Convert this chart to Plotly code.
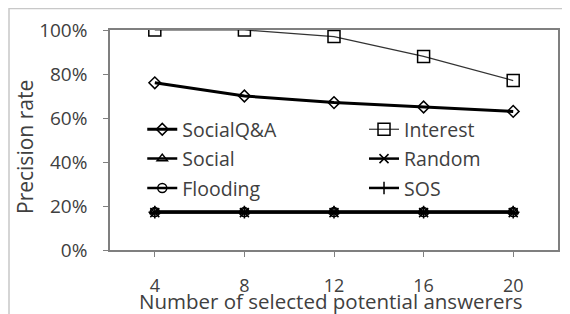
import plotly.graph_objects as go

x_vals = [4, 8, 12, 16, 20]
socialqa = [76, 70, 67, 65, 63]
interest = [100, 100, 97, 88, 77]
social = [17.5, 17.5, 17.5, 17.5, 17.5]
random_ = [17, 17, 17, 17, 17]
flooding = [17.3, 17.3, 17.3, 17.3, 17.3]
sos = [17.2, 17.2, 17.2, 17.2, 17.2]
y_tickvals = [0, 20, 40, 60, 80, 100]
y_ticktext = ["0%", "20%", "40%", "60%", "80%", "100%"]

FONT = "Open Sans"
TXT = "#404040"
fig = go.Figure()

def add(name, y, symbol, width, legend, color="black", msize=9):
    fig.add_trace(go.Scatter(
        x=x_vals, y=y, name=name, mode="lines+markers",
        line=dict(color=color, width=width),
        marker=dict(symbol=symbol, size=msize, color="black",
                    line=dict(color="black", width=1.5)),
        legend=legend, legendgroup=name))

add("SocialQ&A", socialqa, "diamond-open", 3, "legend")
add("Social", social, "triangle-up-open", 2.5, "legend")
add("Flooding", flooding, "circle-open", 2.5, "legend")
add("Interest", interest, "square-open", 1.2, "legend2", color="#333333", msize=12)
add("Random", random_, "x-thin-open", 2.5, "legend2")
add("SOS", sos, "cross-thin-open", 2.5, "legend2")

legend_common = dict(font=dict(family=FONT, size=19.5, color=TXT),
                     bgcolor="rgba(0,0,0,0)", tracegroupgap=1,
                     itemwidth=30, yanchor="top", xanchor="left")

# page body has an 8px margin: figure is drawn at (8, 8)
W, H = 562, 306
ML, MT, PW, PH = 102, 22, 448, 220

def px_x(px):  # on-screen pixel -> paper x
    return (px - 8 - ML) / PW

def px_y(py):  # on-screen pixel -> paper y
    return (MT + PH - (py - 8)) / PH

fig.update_layout(
    width=W, height=H,
    margin=dict(l=ML, r=W - ML - PW, t=MT, b=H - MT - PH),
    plot_bgcolor="white", paper_bgcolor="white",
    font=dict(family=FONT, color=TXT),
    legend=dict(x=0.072, y=0.636, **legend_common),
    legend2=dict(x=0.567, y=0.636, **legend_common),
    xaxis=dict(range=[2, 22], tickvals=x_vals, ticktext=[str(v) for v in x_vals],
               automargin=False,
               showgrid=False, zeroline=False, showline=True, linecolor="#7f7f7f",
               linewidth=1.5, mirror=True, ticks="outside", ticklen=5,
               tickcolor="#7f7f7f", ticklabelstandoff=14,
               tickfont=dict(family=FONT, size=18, color=TXT)),
    yaxis=dict(range=[0, 100], tickvals=y_tickvals, ticktext=y_ticktext,
               automargin=False,
               showgrid=False, zeroline=False, showline=True, linecolor="#7f7f7f",
               linewidth=1.5, mirror=True, ticks="outside", ticklen=5,
               tickcolor="#7f7f7f", ticklabelstandoff=12,
               tickfont=dict(family=FONT, size=19, color=TXT)),
    annotations=[
        dict(text="Number of selected potential answerers",
             xref="paper", yref="paper", x=px_x(331), y=px_y(301),
             xanchor="center", yanchor="middle", showarrow=False,
             font=dict(family=FONT, size=20.5, color=TXT)),
        dict(text="Precision rate", textangle=-90,
             xref="paper", yref="paper", x=px_x(25), y=px_y(147),
             xanchor="center", yanchor="middle", showarrow=False,
             font=dict(family=FONT, size=21, color=TXT)),
    ],
    shapes=[dict(type="rect", xref="paper", yref="paper",
                 x0=-101 / PW, x1=(556 - ML) / PW,
                 y0=-0.5, y1=(PH + MT - 0.5) / PH,
                 line=dict(color="#c8c8c8", width=1.5), layer="below")],
    showlegend=True,
)

fig.write_html("out.html")
